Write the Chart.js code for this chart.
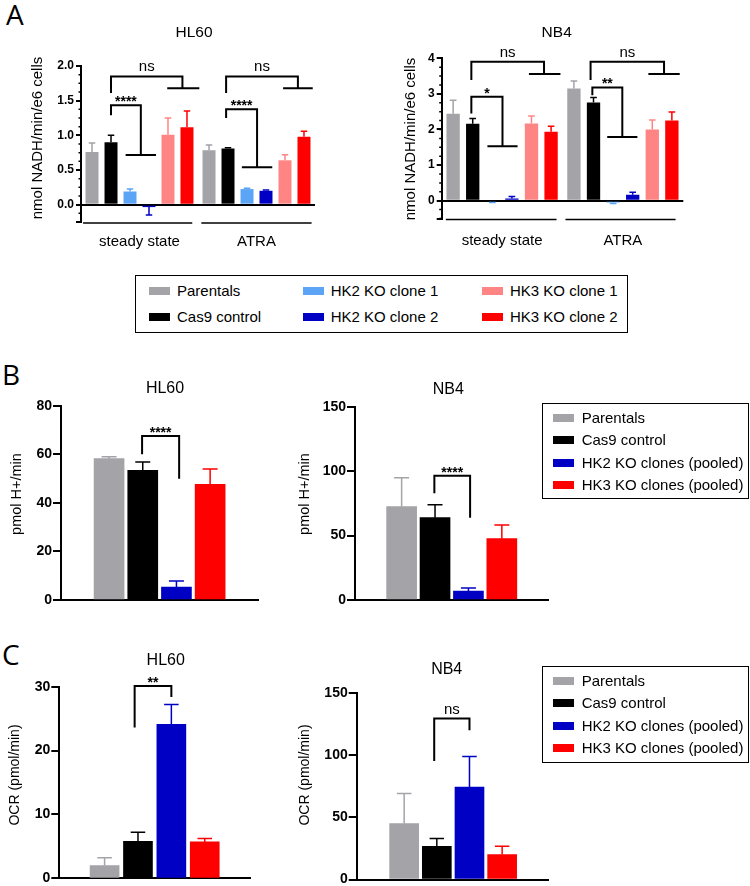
<!DOCTYPE html>
<html>
<head>
<meta charset="utf-8">
<script src="https://cdn.jsdelivr.net/npm/chart.js@4.4.0/dist/chart.umd.min.js"></script>
<style>
body { margin: 0; background: #fff; font-family: "Liberation Sans", Arial, sans-serif; }
#page { position: relative; width: 750px; height: 886px; overflow: hidden; }
.box { position: absolute; }
.letter { position: absolute; font-family: "Open Sans", sans-serif; font-size: 28px; line-height: 28px; }
.legend { position: absolute; border: 1.5px solid #000; box-sizing: border-box; }
.sw { position: absolute; width: 21px; height: 8px; }
.lt { position: absolute; font-size: 15px; line-height: 18px; white-space: nowrap; color: #000; }
</style>
</head>
<body>
<div id="page">
  <div class="letter" style="left:6px;top:0px">A</div>
  <div class="letter" style="left:2px;top:360px">B</div>
  <div class="letter" style="left:2px;top:640px">C</div>
</div>
<script>
// categories
const groupsA = ["steady state", "ATRA"];
const seriesA = ["Parentals", "Cas9 control", "HK2 KO clone 1", "HK2 KO clone 2", "HK3 KO clone 1", "HK3 KO clone 2"];
const seriesBC = ["Parentals", "Cas9 control", "HK2 KO clones (pooled)", "HK3 KO clones (pooled)"];

// A: nmol NADH/min/e6 cells, one row per series -> [steady state, ATRA]
const hl60Nadh    = [[0.76, 0.785], [0.90, 0.81], [0.19, 0.225], [-0.035, 0.20], [1.01, 0.64], [1.115, 0.98]];
const hl60NadhErr = [[0.13, 0.075], [0.10, 0.012], [0.035, 0.012], [0.115, 0.012], [0.24, 0.08], [0.235, 0.08]];
const nb4Nadh     = [[2.44, 3.15], [2.16, 2.76], [-0.03, -0.05], [0.06, 0.17], [2.17, 2.0], [1.94, 2.25]];
const nb4NadhErr  = [[0.38, 0.21], [0.15, 0.14], [0.02, 0.03], [0.06, 0.07], [0.21, 0.27], [0.15, 0.24]];

// B: pmol H+/min
const hl60Ecar    = [58.2, 53.4, 5.3, 47.6];
const hl60EcarErr = [0.8, 3.4, 2.5, 6.3];
const nb4Ecar     = [72.4, 63.9, 7.0, 47.6];
const nb4EcarErr  = [22.5, 10.1, 2.3, 10.6];

// C: OCR (pmol/min)
const hl60Ocr     = [2.0, 5.8, 24.1, 5.7];
const hl60OcrErr  = [1.2, 1.4, 3.1, 0.55];
const nb4Ocr      = [45.0, 26.7, 74.2, 20.0];
const nb4OcrErr   = [24.0, 6.2, 24.6, 6.7];

// y tick labels
const ticksHl60Nadh = [0, 0.5, 1.0, 1.5, 2.0];
const ticksNb4Nadh  = [0, 1, 2, 3, 4];
const ticksHl60Ecar = [0, 20, 40, 60, 80];
const ticksNb4Ecar  = [0, 50, 100, 150];
const ticksHl60Ocr  = [0, 10, 20, 30];
const ticksNb4Ocr   = [0, 50, 100, 150];

const colorsA = ["#a3a3a8", "#000000", "#5ba4f6", "#0000c4", "#ff8585", "#ff0000"];
const colorsBC = ["#a3a3a8", "#000000", "#0000c4", "#ff0000"];
const FONT = '"Liberation Sans", Arial, sans-serif';

const page = document.getElementById("page");


// error bars, brackets, group lines, titles
const extras = {
  id: "extras",
  afterDatasetsDraw(chart, args, o) {
    const ctx = chart.ctx, y = chart.scales.y, area = chart.chartArea;
    ctx.save();
    ctx.lineWidth = 1.5;
    chart.data.datasets.forEach((ds, i) => {
      chart.getDatasetMeta(i).data.forEach((bar, j) => {
        const d = ds.data[j];
        const v = typeof d === "object" ? d.y : d;
        const e = ds.err[j];
        const col = Array.isArray(ds.backgroundColor) ? ds.backgroundColor[j] : ds.backgroundColor;
        const end = y.getPixelForValue(v < 0 ? v - e : v + e);
        const cap = bar.width / 4;
        ctx.strokeStyle = col;
        ctx.beginPath();
        ctx.moveTo(bar.x, bar.y);
        ctx.lineTo(bar.x, end);
        ctx.moveTo(bar.x - cap, end);
        ctx.lineTo(bar.x + cap, end);
        ctx.stroke();
      });
    });

    // minor ticks
    if (o.minor) {
      ctx.strokeStyle = "#000";
      const n = Math.round((y.max - y.min) / o.minor);
      ctx.beginPath();
      for (let k = 0; k <= n; k++) {
        const py = y.getPixelForValue(y.min + k * o.minor);
        ctx.moveTo(area.left, py);
        ctx.lineTo(area.left - 2.5, py);
      }
      ctx.stroke();
    }

    // bar centres in slot order
    const xs = [];
    if (o.grouped) {
      chart.data.labels.forEach((l, g) => {
        chart.data.datasets.forEach((ds, i) => xs.push(chart.getDatasetMeta(i).data[g].x));
      });
    } else {
      chart.getDatasetMeta(0).data.forEach(b => xs.push(b.x));
    }
    const px = s => {
      let k = Math.floor(s);
      k = Math.max(0, Math.min(xs.length - 2, k));
      return xs[k] + (s - k) * (xs[k + 1] - xs[k]);
    };

    ctx.strokeStyle = "#000";
    ctx.fillStyle = "#000";
    ctx.lineWidth = 2;
    (o.brackets || []).forEach(b => {
      const x1 = px(b.x1), x2 = px(b.x2), top = y.getPixelForValue(b.top);
      ctx.beginPath();
      ctx.moveTo(x1, y.getPixelForValue(b.y1));
      ctx.lineTo(x1, top);
      ctx.lineTo(x2, top);
      ctx.lineTo(x2, y.getPixelForValue(b.y2));
      if (b.t) {
        const ty = y.getPixelForValue(b.y2);
        ctx.moveTo(px(b.x2 - b.t), ty);
        ctx.lineTo(px(b.x2 + b.t), ty);
      }
      ctx.stroke();
      const star = b.text.indexOf("*") >= 0;
      ctx.font = (star ? "bold 14px " : "15px ") + FONT;
      ctx.textAlign = "center";
      ctx.textBaseline = "alphabetic";
      ctx.fillText(b.text, (x1 + x2) / 2, star ? top + 1 : top - 5);
    });

    ctx.lineWidth = 1.5;
    (o.groupLines || []).forEach(g => {
      ctx.beginPath();
      ctx.moveTo(px(g[0]), area.bottom + 1);
      ctx.lineTo(px(g[1]), area.bottom + 1);
      ctx.stroke();
    });

    ctx.textAlign = "center";
    ctx.textBaseline = "middle";
    ctx.font = o.title.size + "px " + FONT;
    ctx.fillText(o.title.text, o.title.x, o.title.y);
    ctx.font = o.ylabel.size + "px " + FONT;
    ctx.translate(o.ylabel.x, o.ylabel.y);
    ctx.rotate(-Math.PI / 2);
    ctx.fillText(o.ylabel.text, 0, 0);
    ctx.restore();
  }
};


function makeChart(c) {
  const b = c.box, a = c.area;
  const holder = document.createElement("div");
  holder.className = "box";
  holder.style.left = b.x + "px";
  holder.style.top = b.y + "px";
  const cv = document.createElement("canvas");
  cv.width = b.w;
  cv.height = b.h;
  holder.appendChild(cv);
  page.appendChild(holder);

  const grouped = !!c.groups;
  let datasets, xScale;
  if (grouped) {
    datasets = c.series.map((name, i) => ({
      label: name,
      data: c.values[i],
      err: c.errors[i],
      backgroundColor: c.colors[i],
      categoryPercentage: c.catPct,
      barPercentage: c.barPct
    }));
    xScale = {
      type: "category",
      offset: true,
      border: { display: false },
      grid: { display: false },
      ticks: { color: "#000", font: { size: 15, family: FONT }, padding: c.labelPad },
      afterFit: s => { s.height = b.y + b.h - a.b; }
    };
  } else {
    datasets = [{
      label: c.name,
      data: c.values.map((v, i) => ({ x: i, y: v })),
      err: c.errors,
      backgroundColor: c.colors,
      barThickness: c.barW
    }];
    xScale = {
      type: "linear",
      min: c.xMin,
      max: c.xMax,
      border: { display: true, color: "#000", width: 2 },
      grid: { display: false },
      ticks: { display: false },
      afterBuildTicks: s => { s.ticks = c.values.map((v, i) => ({ value: i })); },
      afterFit: s => { s.height = b.y + b.h - a.b; }
    };
  }

  return new Chart(cv, {
    type: "bar",
    data: { labels: grouped ? c.groups : c.series, datasets: datasets },
    options: {
      responsive: false,
      animation: false,
      devicePixelRatio: 1,
      layout: { padding: { left: 0, top: a.t - b.y, right: b.x + b.w - a.r, bottom: 0 } },
      plugins: {
        legend: { display: false },
        tooltip: { enabled: false },
        extras: {
          grouped: grouped,
          minor: c.minor,
          brackets: c.brackets,
          groupLines: c.groupLines,
          title: { text: c.title, x: c.titlePos[0] - b.x, y: c.titlePos[1] - b.y, size: c.titleSize },
          ylabel: { text: c.ylabel, x: c.ylabelPos[0] - b.x, y: c.ylabelPos[1] - b.y, size: c.ylabelSize }
        }
      },
      scales: {
        x: xScale,
        y: {
          type: "linear",
          min: c.yMin,
          max: c.yMax,
          afterBuildTicks: s => {
            const t = c.yTicks.slice();
            if (c.yMin < t[0]) t.unshift(c.yMin);
            s.ticks = t.map(v => ({ value: v }));
          },
          ticks: {
            color: "#000",
            padding: c.tickPad,
            font: { size: c.tickSize, weight: "bold", family: FONT },
            callback: v => (v < 0 ? "" : v.toFixed(c.decimals))
          },
          grid: {
            drawOnChartArea: grouped,
            color: ctx => (ctx.tick && ctx.tick.value === 0 ? "#000" : "rgba(0,0,0,0)"),
            tickColor: "#000",
            tickLength: c.tickLen,
            lineWidth: 2
          },
          border: { display: true, color: "#000", width: 2 },
          afterFit: s => { s.width = a.l - b.x; }
        }
      }
    },
    plugins: [extras]
  });
}


// A  HL60
makeChart({
  box: { x: 0, y: 20, w: 345, h: 240 },
  area: { l: 81, t: 66, r: 315, b: 222 },
  groups: groupsA, series: seriesA, colors: colorsA,
  values: hl60Nadh, errors: hl60NadhErr,
  catPct: 0.974, barPct: 0.684, labelPad: 3,
  yMin: -0.25, yMax: 2, yTicks: ticksHl60Nadh, decimals: 1, minor: 0.125,
  tickSize: 12, tickPad: 2, tickLen: 5,
  title: "HL60", titlePos: [194, 33], titleSize: 15.5,
  ylabel: "nmol NADH/min/e6 cells", ylabelPos: [38, 138], ylabelSize: 15,
  groupLines: [[-0.47, 5.24], [5.65, 11.4]],
  brackets: [
    { x1: 1, y1: 1.61, x2: 4.76, y2: 1.68, top: 1.85, t: 0.8, text: "ns" },
    { x1: 1, y1: 1.29, x2: 2.57, y2: 0.715, top: 1.435, t: 0.8, text: "****" },
    { x1: 6.9, y1: 1.61, x2: 10.68, y2: 1.68, top: 1.85, t: 0.78, text: "ns" },
    { x1: 6.9, y1: 1.25, x2: 8.53, y2: 0.54, top: 1.375, t: 0.8, text: "****" }
  ]
});

// A  NB4
makeChart({
  box: { x: 375, y: 20, w: 375, h: 240 },
  area: { l: 441.7, t: 58.3, r: 683.3, b: 218.5 },
  groups: groupsA, series: seriesA, colors: colorsA,
  values: nb4Nadh, errors: nb4NadhErr,
  catPct: 0.973, barPct: 0.68, labelPad: 5,
  yMin: -0.5, yMax: 4, yTicks: ticksNb4Nadh, decimals: 0, minor: 0.25,
  tickSize: 12, tickPad: 2, tickLen: 5,
  title: "NB4", titlePos: [556.7, 33], titleSize: 15.5,
  ylabel: "nmol NADH/min/e6 cells", ylabelPos: [411, 139], ylabelSize: 15,
  groupLines: [[-0.37, 5.24], [5.63, 11.19]],
  brackets: [
    { x1: 0.93, y1: 3.39, x2: 4.64, y2: 3.56, top: 3.9, t: 0.77, text: "ns" },
    { x1: 0.93, y1: 2.45, x2: 2.52, y2: 1.53, top: 2.92, t: 0.77, text: "*" },
    { x1: 6.85, y1: 3.39, x2: 10.6, y2: 3.56, top: 3.9, t: 0.8, text: "ns" },
    { x1: 6.94, y1: 2.96, x2: 8.47, y2: 1.79, top: 3.18, t: 0.77, text: "**" }
  ]
});

// B  HL60
makeChart({
  box: { x: 0, y: 370, w: 290, h: 250 },
  area: { l: 61, t: 405.7, r: 258, b: 600 },
  name: "HL60", series: seriesBC, colors: colorsBC,
  values: hl60Ecar, errors: hl60EcarErr,
  barW: 30, xMin: -0.696, xMax: 3.69,
  yMin: 0, yMax: 80, yTicks: ticksHl60Ecar, decimals: 0,
  tickSize: 14, tickPad: 1, tickLen: 8,
  title: "HL60", titlePos: [165, 388.3], titleSize: 16,
  ylabel: "pmol H+/min", ylabelPos: [17, 494], ylabelSize: 14.5,
  brackets: [{ x1: 0.98, y1: 60, x2: 2.08, y2: 49.9, top: 67.5, text: "****" }]
});

// B  NB4
makeChart({
  box: { x: 290, y: 370, w: 260, h: 250 },
  area: { l: 355, t: 406.7, r: 548, b: 600 },
  name: "NB4", series: seriesBC, colors: colorsBC,
  values: nb4Ecar, errors: nb4EcarErr,
  barW: 30, xMin: -0.674, xMax: 3.66,
  yMin: 0, yMax: 150, yTicks: ticksNb4Ecar, decimals: 0,
  tickSize: 14, tickPad: 1, tickLen: 8,
  title: "NB4", titlePos: [448.3, 389.3], titleSize: 16,
  ylabel: "pmol H+/min", ylabelPos: [305, 494], ylabelSize: 14.5,
  brackets: [{ x1: 0.98, y1: 82.8, x2: 2.05, y2: 63.9, top: 96.4, text: "****" }]
});

// C  HL60
makeChart({
  box: { x: 0, y: 640, w: 290, h: 260 },
  area: { l: 59.3, t: 686.7, r: 250.7, b: 878.3 },
  name: "HL60", series: seriesBC, colors: colorsBC,
  values: hl60Ocr, errors: hl60OcrErr,
  barW: 29, xMin: -0.64, xMax: 3.66,
  yMin: 0, yMax: 30, yTicks: ticksHl60Ocr, decimals: 0,
  tickSize: 14, tickPad: 1, tickLen: 8,
  title: "HL60", titlePos: [165.7, 660.7], titleSize: 16,
  ylabel: "OCR (pmol/min)", ylabelPos: [15, 775], ylabelSize: 14,
  brackets: [{ x1: 0.9, y1: 23.6, x2: 2.0, y2: 28.4, top: 30.1, text: "**" }]
});

// C  NB4
makeChart({
  box: { x: 290, y: 640, w: 262, h: 260 },
  area: { l: 356.7, t: 692.7, r: 548.3, b: 879.5 },
  name: "NB4", series: seriesBC, colors: colorsBC,
  values: nb4Ocr, errors: nb4OcrErr,
  barW: 29, xMin: -0.72, xMax: 3.68,
  yMin: 0, yMax: 150, yTicks: ticksNb4Ocr, decimals: 0,
  tickSize: 14, tickPad: 1, tickLen: 8,
  title: "NB4", titlePos: [446.7, 670], titleSize: 16,
  ylabel: "OCR (pmol/min)", ylabelPos: [305, 775], ylabelSize: 14,
  brackets: [{ x1: 0.92, y1: 95.2, x2: 2.0, y2: 119.8, top: 129.2, text: "ns" }]
});


// legends
function legend(box, items) {
  const el = document.createElement("div");
  el.className = "legend";
  el.style.left = box[0] + "px";
  el.style.top = box[1] + "px";
  el.style.width = (box[2] - box[0]) + "px";
  el.style.height = (box[3] - box[1]) + "px";
  page.appendChild(el);
  items.forEach(it => {
    const sw = document.createElement("div");
    sw.className = "sw";
    sw.style.background = it.color;
    sw.style.left = it.sx + "px";
    sw.style.top = (it.y - 4) + "px";
    page.appendChild(sw);
    const t = document.createElement("div");
    t.className = "lt";
    t.textContent = it.text;
    t.style.left = it.tx + "px";
    t.style.top = (it.y - 9) + "px";
    page.appendChild(t);
  });
}

const colA = [[149, 177], [302.7, 330.7], [482, 510]];
legend([135, 275, 628, 333], seriesA.map((s, i) => ({
  text: s, color: colorsA[i],
  sx: colA[Math.floor(i / 2)][0], tx: colA[Math.floor(i / 2)][1],
  y: i % 2 ? 316.7 : 290.7
})));

const rowsB = [418.3, 440.3, 462.7, 485];
legend([542.3, 402.7, 749.5, 499.5], seriesBC.map((s, i) => ({
  text: s, color: colorsBC[i], sx: 553.3, tx: 581.7, y: rowsB[i]
})));

const rowsC = [680.7, 703.3, 726, 748];
legend([542.3, 665.7, 749.5, 763], seriesBC.map((s, i) => ({
  text: s, color: colorsBC[i], sx: 553.3, tx: 581.7, y: rowsC[i]
})));
</script>
</body>
</html>
